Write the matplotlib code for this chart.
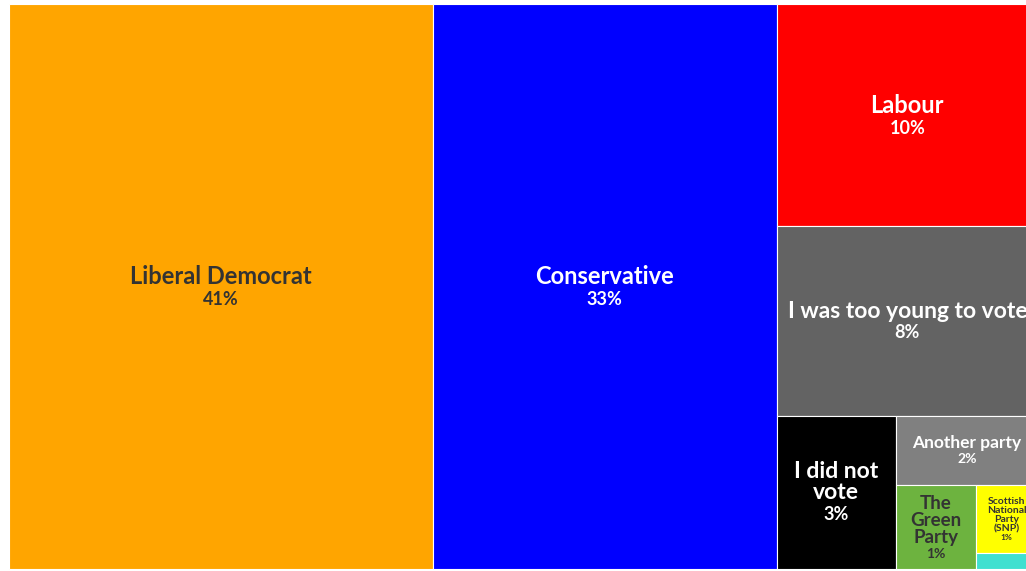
import matplotlib.pyplot as plt
from matplotlib.patches import Rectangle

# vote shares (%)
names = ["Liberal Democrat", "Conservative", "Labour", "I was too young to vote",
         "I did not\nvote", "Another party", "The\nGreen\nParty",
         "Scottish\nNational\nParty\n(SNP)", ""]
shares = [41.2, 33.4, 10.0, 8.5, 3.15, 1.7, 1.15, 0.73, 0.17]
colors = ["#FFA500", "#0000FF", "#FF0000", "#636363", "#000000",
          "#808080", "#6DB33F", "#FFFF00", "#40E0D0"]
text_colors = ["#333333", "white", "white", "white", "white",
               "white", "#333333", "#333333", "#333333"]
name_sizes = [17, 17, 17, 16.5, 16.5, 12.5, 13.5, 7.5, 6]
pct_sizes = [13, 13, 13, 13, 13, 10, 10, 6, 6]

plt.rcParams['font.family'] = ['Lato', 'DejaVu Sans']


def split(rect, vals, across):
    # cut a rectangle into pieces proportional to vals
    x, y, w, h = rect
    tot = sum(vals)
    out = []
    pos = 0
    for v in vals:
        f = v / tot
        if across:
            out.append((x + pos, y, w * f, h))
            pos += w * f
        else:
            out.append((x, y + pos, w, h * f))
            pos += h * f
    return out


def layout(rect, vals):
    # fixed nesting: 2 columns, then alternating cuts in the rest
    cuts = [(2, True), (2, False), (1, True), (1, False), (1, True), (1, False)]
    rects = []
    rest = rect
    i = 0
    for n, across in cuts:
        head = vals[i:i + n]
        tail = vals[i + n:]
        parts = split(rest, head + [sum(tail)], across)
        rects += parts[:-1]
        rest = parts[-1]
        i += n
    rects.append(rest)
    return rects


fig = plt.figure(figsize=(10.26, 5.71), dpi=100)
ax = fig.add_axes([0, 0, 1, 1])
ax.set_xlim(0, 1026)
ax.set_ylim(571, 0)
ax.axis('off')
renderer = fig.canvas.get_renderer()

rects = layout((9, 4, 1029, 565), shares)

for (x, y, w, h), name, s, c, tc, fs, ps in zip(rects, names, shares, colors,
                                                text_colors, name_sizes, pct_sizes):
    ax.add_patch(Rectangle((x, y), w, h, facecolor=c, edgecolor='white', linewidth=0.8))
    if not name:
        continue
    cx = x + w / 2
    cy = y + h / 2
    t1 = ax.text(cx, cy, name, ha='center', va='bottom', color=tc, fontsize=fs,
                 fontweight='bold', linespacing=1.0)
    t2 = ax.text(cx, cy, f"{s:.0f}%", ha='center', va='top', color=tc,
                 fontsize=ps, fontweight='bold')
    # centre the name + value block in the box
    h1 = t1.get_window_extent(renderer).height
    h2 = t2.get_window_extent(renderer).height
    gap = ps * 0.2
    t1.set_y(cy + (h1 - gap - h2) / 2)
    t2.set_y(cy + (h1 + gap - h2) / 2)

fig.savefig("out.png", dpi=100)
